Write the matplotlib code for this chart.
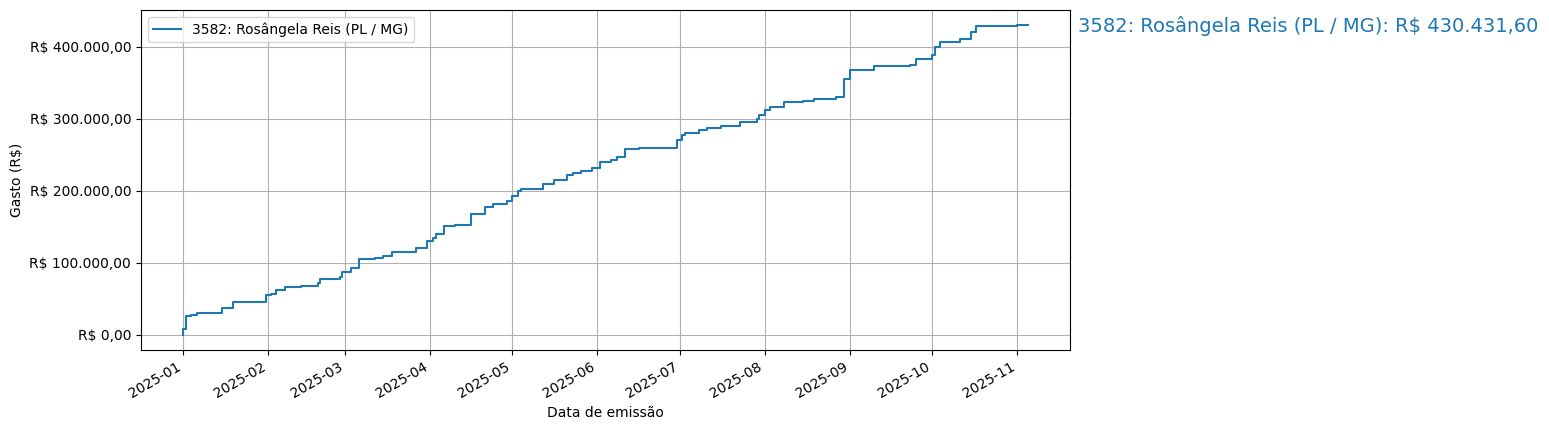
import matplotlib
matplotlib.use("Agg")
import matplotlib.pyplot as plt
import matplotlib.dates as mdates
from matplotlib.ticker import FuncFormatter
import pandas as pd

dates = ["2025-01-01","2025-01-01","2025-01-02","2025-01-04","2025-01-06","2025-01-15","2025-01-19","2025-01-31",
 "2025-02-02","2025-02-04","2025-02-07","2025-02-13","2025-02-19","2025-02-20","2025-02-27",
 "2025-02-28","2025-03-03","2025-03-06","2025-03-12","2025-03-15","2025-03-18","2025-03-27","2025-03-31","2025-04-02","2025-04-03",
 "2025-04-06","2025-04-10","2025-04-16","2025-04-21","2025-04-24","2025-04-29","2025-05-01",
 "2025-05-03","2025-05-04","2025-05-12","2025-05-16","2025-05-21","2025-05-23","2025-05-26","2025-05-30",
 "2025-06-02","2025-06-06","2025-06-08","2025-06-11","2025-06-16","2025-06-30","2025-07-02","2025-07-03",
 "2025-07-08","2025-07-11","2025-07-16","2025-07-23","2025-07-29","2025-07-30","2025-08-01","2025-08-03",
 "2025-08-08","2025-08-15","2025-08-19","2025-08-23","2025-08-27","2025-08-30","2025-09-01",
 "2025-09-10","2025-09-23","2025-09-25","2025-10-01","2025-10-02","2025-10-04","2025-10-11","2025-10-15","2025-10-17","2025-10-23","2025-11-01","2025-11-05"]
values = [0,8000,26000,28000,31000,37000,46000,55000,
 57000,62000,67000,68000,72000,77000,80000,
 87000,93000,105000,107000,110000,115000,120000,130000,135000,140000,
 151000,153000,168000,178000,181000,186000,193000,
 200000,202000,210000,215000,222000,225000,228000,231000,
 240000,243000,247000,258000,259000,270000,278000,280000,
 284000,287000,290000,295000,300000,305000,312000,316000,
 323000,325000,327000,328000,330000,355000,368000,
 373000,375000,383000,388000,400000,406000,410000,420000,428000,429000,430431.60,430431.60]
label = "3582: Rosângela Reis (PL / MG)"
total = 430431.60

def brl(v, pos=None):
    s = f"{v:,.2f}".replace(",", "X").replace(".", ",").replace("X", ".")
    return f"R$ {s}"

fig = plt.figure(figsize=(15.49, 4.3), dpi=100)
ax = fig.add_axes([0.091, 0.186, 0.6, 0.791])
ax.plot(pd.to_datetime(dates), values, drawstyle="steps-post", label=label, color="#1f77b4")
ax.yaxis.set_major_formatter(FuncFormatter(brl))
ax.xaxis.set_major_locator(mdates.MonthLocator())
ax.xaxis.set_major_formatter(mdates.DateFormatter("%Y-%m"))
ax.set_ylim(-21000, 451000)
ax.grid(True)
ax.legend(loc="upper left")
ax.set_xlabel("Data de emissão")
ax.set_ylabel("Gasto (R$)")
for t in ax.get_xticklabels():
    t.set_rotation(30); t.set_ha("right")
fig.text(0.696, 0.94, f"{label}: {brl(total)}", color="#1f77b4", fontsize=14, va="center")
fig.savefig("out.png", dpi=100)
